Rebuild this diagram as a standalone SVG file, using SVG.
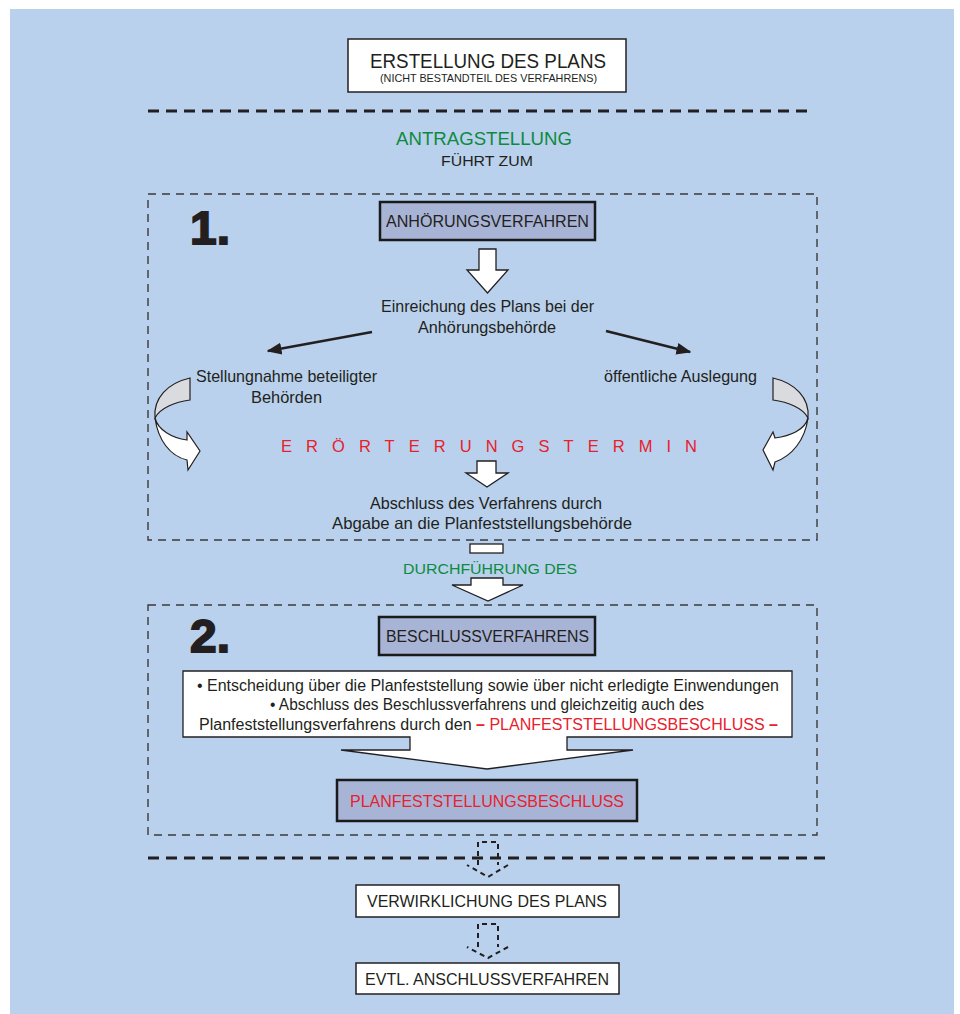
<svg xmlns="http://www.w3.org/2000/svg" width="960" height="1014" viewBox="0 0 960 1014">
<defs>
<style>
.t{font-family:"Liberation Sans",Arial,sans-serif;fill:#231f20;text-anchor:middle}
.g{fill:#0e8a40}
.r{fill:#e8202d}
.box{fill:#ffffff;stroke:#231f20;stroke-width:1.5}
.lav{fill:#a8b4d6;stroke:#1a1a1a;stroke-width:2.5}
.dbox{fill:none;stroke:#3a3a3a;stroke-width:1.4;stroke-dasharray:8 6}
.dline{fill:none;stroke:#231f20;stroke-width:3;stroke-dasharray:11 7}
.wa{fill:#ffffff;stroke:#231f20;stroke-width:1.3;stroke-linejoin:miter}
.da{fill:none;stroke:#231f20;stroke-width:2;stroke-dasharray:5 4}
.num{font-family:"Liberation Sans",Arial,sans-serif;font-weight:bold;font-size:47px;fill:#231f20;stroke:#231f20;stroke-width:1.8}
</style>
<marker id="ah" viewBox="0 0 10 10" refX="9" refY="5" markerWidth="6" markerHeight="6" orient="auto" markerUnits="strokeWidth">
<path d="M0,1 L10,5 L0,9 Z" fill="#231f20"/>
</marker>
</defs>
<rect x="10" y="9" width="944" height="1005" fill="#b9d1ec"/>

<g id="frames">
<line class="dline" x1="148" y1="111" x2="812" y2="111"/>
<rect id="phase1-frame" class="dbox" x="148" y="194" width="669" height="346"/>
<rect id="phase2-frame" class="dbox" x="148" y="605" width="669" height="230"/>
<line class="dline" x1="148" y1="858" x2="825" y2="858"/>
</g>

<g id="erstellung">
<rect class="box" x="348" y="39" width="278" height="53"/>
<text class="t" x="488" y="68" font-size="19.5" textLength="236" lengthAdjust="spacingAndGlyphs">ERSTELLUNG DES PLANS</text>
<text class="t" x="488.5" y="82" font-size="11" textLength="217" lengthAdjust="spacingAndGlyphs">(NICHT BESTANDTEIL DES VERFAHRENS)</text>
</g>

<g id="antrag">
<text class="t g" x="484" y="145" font-size="18.5" textLength="176" lengthAdjust="spacingAndGlyphs">ANTRAGSTELLUNG</text>
<text class="t" x="487" y="166" font-size="15" textLength="92" lengthAdjust="spacingAndGlyphs">FÜHRT ZUM</text>
</g>

<g id="num1"><text class="num" x="190" y="244" textLength="40" lengthAdjust="spacingAndGlyphs">1.</text></g>
<g id="num2"><text class="num" x="190" y="652" textLength="40" lengthAdjust="spacingAndGlyphs">2.</text></g>

<g id="anhoerung">
<rect class="lav" x="380" y="202" width="215" height="38"/>
<text class="t" x="487.5" y="227" font-size="16" textLength="203" lengthAdjust="spacingAndGlyphs">ANHÖRUNGSVERFAHREN</text>
</g>

<g id="einreichung">
<text class="t" x="487.5" y="312" font-size="16.5" textLength="213" lengthAdjust="spacingAndGlyphs">Einreichung des Plans bei der</text>
<text class="t" x="487" y="333" font-size="16.5" textLength="138" lengthAdjust="spacingAndGlyphs">Anhörungsbehörde</text>
</g>

<g id="stellungnahme">
<text class="t" x="286.5" y="382" font-size="16.5" textLength="181" lengthAdjust="spacingAndGlyphs">Stellungnahme beteiligter</text>
<text class="t" x="286.5" y="403" font-size="16.5" textLength="71" lengthAdjust="spacingAndGlyphs">Behörden</text>
</g>

<g id="auslegung">
<text class="t" x="680.5" y="382" font-size="16.5" textLength="153" lengthAdjust="spacingAndGlyphs">öffentliche Auslegung</text>
</g>

<g id="eroerterung">
<text class="t r" x="281" y="452" font-size="16.5" style="text-anchor:start" textLength="416" lengthAdjust="spacing">ERÖRTERUNGSTERMIN</text>
</g>

<g id="abschluss">
<text class="t" x="486" y="509" font-size="16.5" textLength="232" lengthAdjust="spacingAndGlyphs">Abschluss des Verfahrens durch</text>
<text class="t" x="482" y="529" font-size="16.5" textLength="300" lengthAdjust="spacingAndGlyphs">Abgabe an die Planfeststellungsbehörde</text>
</g>

<g id="durchfuehrung">
<text class="t g" x="490" y="574" font-size="15.5" textLength="174" lengthAdjust="spacingAndGlyphs">DURCHFÜHRUNG DES</text>
</g>

<g id="beschlussverfahren">
<rect class="lav" x="379" y="617" width="216" height="38"/>
<text class="t" x="487.5" y="642" font-size="16" textLength="203" lengthAdjust="spacingAndGlyphs">BESCHLUSSVERFAHRENS</text>
</g>

<g id="entscheidung">
<path class="wa" d="M183,671 H792 V737 H567 V750 H633 L487,769 L341,750 H410 V737 H183 Z"/>
<text class="t" x="488" y="691" font-size="16" textLength="582" lengthAdjust="spacingAndGlyphs">• Entscheidung über die Planfeststellung sowie über nicht erledigte Einwendungen</text>
<text class="t" x="487" y="710" font-size="16" textLength="434" lengthAdjust="spacingAndGlyphs">• Abschluss des Beschlussverfahrens und gleichzeitig auch des</text>
<text class="t" x="488.5" y="730" font-size="16" textLength="579" lengthAdjust="spacingAndGlyphs">Planfeststellungsverfahrens durch den <tspan class="r" font-weight="bold">–</tspan><tspan class="r"> PLANFESTSTELLUNGSBESCHLUSS </tspan><tspan class="r" font-weight="bold">–</tspan></text>
</g>

<g id="pfb">
<rect class="lav" x="337" y="780" width="300" height="41"/>
<text class="t r" x="487" y="807" font-size="16.5" textLength="274" lengthAdjust="spacingAndGlyphs">PLANFESTSTELLUNGSBESCHLUSS</text>
</g>

<g id="verwirklichung">
<rect class="box" x="356" y="885" width="263" height="32"/>
<text class="t" x="487" y="907" font-size="16.5" textLength="240" lengthAdjust="spacingAndGlyphs">VERWIRKLICHUNG DES PLANS</text>
</g>

<g id="anschluss">
<rect class="box" x="356" y="963" width="263" height="31"/>
<text class="t" x="487" y="985" font-size="16.5" textLength="244" lengthAdjust="spacingAndGlyphs">EVTL. ANSCHLUSSVERFAHREN</text>
</g>

<g id="connectors">
<path class="wa" d="M479,249 H496 V270 H508 L487.5,293 L467,270 H479 Z"/>
<line x1="372" y1="332" x2="268" y2="351" stroke="#231f20" stroke-width="2.5" marker-end="url(#ah)"/>
<line x1="606" y1="331" x2="690" y2="352" stroke="#231f20" stroke-width="2.5" marker-end="url(#ah)"/>
<path d="M190,378 C168,383 153,398 155,418 C160,408 175,402 190,400 Z" fill="#d9dbde" stroke="#231f20" stroke-width="1.2"/>
<path d="M155,418 C158,440 170,456 187,460 L188,470 L200,451 L187,432 L187,440 C172,438 158,430 155,418 Z" fill="#ffffff" stroke="#231f20" stroke-width="1.2"/>
<path d="M773,378 C795,383 810,398 808,418 C803,408 788,402 773,400 Z" fill="#d9dbde" stroke="#231f20" stroke-width="1.2"/>
<path d="M808,418 C805,440 792,456 775,462 L773,470 L763,450 L773,432 L775,438 C790,436 805,430 808,418 Z" fill="#ffffff" stroke="#231f20" stroke-width="1.2"/>
<path class="wa" d="M477,461 H496 V473 H508 L487,487 L466,473 H477 Z"/>
<rect class="wa" x="470" y="544" width="33" height="9"/>
<path class="wa" d="M471,578 H503 V585 H523 L488,601 L452,585 H471 Z"/>
<path class="da" d="M478,865 V842 H498 V865 M508,865 L488,877 L467,865"/>
<path class="da" d="M478,947 V924 H498 V947 M508,947 L488,958 L467,947"/>
</g>
</svg>
